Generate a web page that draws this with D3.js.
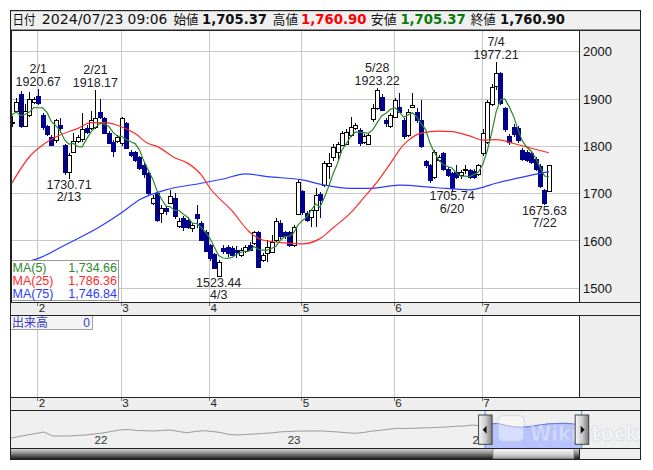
<!DOCTYPE html>
<html><head><meta charset="utf-8">
<script src="https://cdn.jsdelivr.net/npm/d3@7"></script>
<style>
html,body{margin:0;padding:0;background:#fff;}
svg{display:block;}
</style></head>
<body><svg id="c" width="653" height="470"></svg>
<script>
// ---------------- DATA ----------------
const dates = ["1/24","1/25","1/26","1/29","1/30","1/31",
"2/1","2/2","2/5","2/6","2/7","2/8","2/9","2/13","2/14","2/15","2/16","2/19","2/20","2/21","2/22","2/26","2/27","2/28","2/29",
"3/1","3/4","3/5","3/6","3/7","3/8","3/11","3/12","3/13","3/14","3/15","3/18","3/19","3/21","3/22","3/25","3/26","3/27","3/28","3/29",
"4/1","4/2","4/3","4/4","4/5","4/8","4/9","4/10","4/11","4/12","4/15","4/16","4/17","4/18","4/19","4/22","4/23","4/24","4/25","4/26","4/30",
"5/1","5/2","5/7","5/8","5/9","5/10","5/13","5/14","5/15","5/16","5/17","5/20","5/21","5/22","5/23","5/24","5/27","5/28","5/29","5/30","5/31",
"6/3","6/4","6/5","6/6","6/7","6/10","6/11","6/12","6/13","6/14","6/17","6/18","6/19","6/20","6/21","6/24","6/25","6/26","6/27","6/28",
"7/1","7/2","7/3","7/4","7/5","7/8","7/9","7/10","7/11","7/12","7/16","7/17","7/18","7/19","7/22","7/23"];

const open = [1850,1875,1910,1844,1866,1892,
1906,1866,1842,1820,1813,1845,1803,1745,1789,1812,1815,1838,1838,1840,1872,1859,1828,1810,1812,
1806,1849,1789,1787,1778,1760,1743,1680,1701,1658,1670,1681,1690,1632,1648,1644,1627,1656,1638,1620,
1591,1572,1527,1585,1588,1586,1580,1570,1578,1592,1595,1620,1560,1575,1577,1602,1638,1618,1620,1592,1658,
1705,1660,1651,1665,1700,1718,1758,1778,1790,1803,1806,1824,1838,1834,1810,1806,1856,1880,1905,1856,1842,
1863,1884,1856,1824,1884,1872,1856,1768,1760,1736,1771,1785,1752,1743,1745,1738,1750,1750,1748,1740,
1785,1810,1891,1926,1954,1880,1822,1840,1838,1792,1788,1786,1774,1758,1707,1705.37];
const high = [1865,1902,1917,1890,1915,1905,
1920.67,1870,1846,1824,1858,1860,1806,1785,1828,1824,1870,1845,1875,1918.17,1901,1862,1832,1814,1824,
1862,1852,1792,1790,1780,1764,1746,1697,1703,1676,1674,1707,1701,1648,1652,1650,1637,1676,1642,1624,
1594,1575,1560,1592,1592,1590,1590,1585,1592,1598,1622,1622,1575,1602,1612,1648,1645,1622,1622,1634,1728,
1708,1664,1668,1712,1704,1768,1785,1806,1810,1832,1836,1863,1850,1838,1826,1828,1890,1923.22,1910,1860,1870,
1903,1912,1860,1878,1912,1880,1898,1772,1762,1792,1782,1788,1756,1746,1760,1750,1760,1753,1752,1763,
1836,1898,1932,1977.21,1957,1884,1826,1848,1842,1796,1792,1790,1778,1762,1710,1760.90];
const low = [1840,1872,1838,1841,1863,1890,
1888,1834,1822,1800,1808,1828,1740,1730.71,1785,1808,1810,1826,1834,1836,1858,1826,1804,1778,1808,
1800,1794,1778,1766,1750,1734,1698,1676,1640,1637,1655,1678,1646,1628,1622,1625,1620,1628,1600,1576,
1558,1540,1523.44,1572,1566,1568,1565,1566,1574,1578,1592,1544,1555,1556,1575,1598,1605,1605,1588,1588,1655,
1655,1640,1630,1630,1648,1715,1730,1770,1768,1800,1802,1820,1835,1800,1806,1802,1852,1876,1874,1840,1838,
1860,1870,1815,1820,1880,1850,1796,1755,1722,1730,1766,1748,1735,1705.74,1730,1732,1742,1732,1730,1738,
1780,1806,1886,1920,1888,1830,1803,1820,1808,1768,1766,1762,1748,1712,1675.63,1705.37];
const close = [1851,1894,1842,1875,1900,1899,
1892,1841,1826,1803,1856,1838,1745,1781,1812,1820,1836,1830,1855,1860,1862,1828,1807,1790,1820,
1859,1797,1782,1771,1754,1740,1701,1690,1644,1669,1664,1695,1651,1643,1630,1630,1634,1648,1603,1580,
1563,1543,1556,1578,1576,1572,1575,1580,1587,1582,1618,1546,1570,1588,1598,1642,1610,1610,1592,1630,1725,
1660,1645,1665,1697,1688,1764,1765,1799,1806,1828,1831,1841,1845,1806,1822,1824,1880,1919,1877,1849,1866,
1898,1873,1822,1873,1888,1856,1800,1760,1728,1789,1778,1752,1740,1712,1735,1745,1753,1736,1735,1760,
1828,1894,1926,1954,1891,1836,1810,1825,1812,1772,1771,1768,1752,1716,1680,1760.90];
const priorCloses = [1862,1878,1865,1874];   // closes before the first visible day (for MA5)

const ma25Idx = [0,4,7,11,15,18,21,25,28,31,33,37,40,43,45,50,54,57,62,66,70,73,77,80,83,87,88,90,93,97,100,104,107,110,114,118,122];
const ma25Val = [1722,1778,1803,1824,1838,1850,1850,1841,1827,1806,1800,1776,1764,1740,1712,1664,1619,1602,1596,1594,1605,1628,1660,1692,1725,1778,1792,1812,1828,1832,1831,1822,1813,1814,1806,1796,1786.36];
const ma75Idx = [0,5,7,12,20,25,29,35,43,48,53,58,66,70,77,81,88,96,104,106,110,118,122];
const ma75Val = [1548,1560,1567,1591,1630,1660,1687,1708,1722,1731,1742,1736,1729,1720,1711,1711,1718,1713,1708,1711,1722,1739,1746.84];

const yTicks = [1500,1600,1700,1800,1900,2000];

const peakIdx   = [6,13,19,47,83,100,110,121];
const peakKind  = ["high","low","high","low","high","low","high","low"];
const peakValue = [1920.67,1730.71,1918.17,1523.44,1923.22,1705.74,1977.21,1675.63];

const hdrDate = "2024/07/23", hdrTime = "09:06";
const hdrOpen = 1705.37, hdrHigh = 1760.90, hdrLow = 1705.37, hdrClose = 1760.90;

const legendNames  = ["MA(5)","MA(25)","MA(75)"];
const legendValues = [1734.66,1786.36,1746.84];
const volumeLabel = "出来高", volumeValue = 0;

const navValues = [538,704,842,980,1118,750,750,750,796,842,934,1026,1164,1302,1348,1256,1238,1210,1256,1302,
1164,1054,1164,1238,1164,1072,888,842,888,934,980,1026,1118,1164,1192,1210,1210,1210,1164,1118,
1054,998,1072,1192,1274,1366,1458,1440,1458,1486,1514,1550,1578,1642,1670,1762,1670,1854,1900,1716,
1578,1550,1624,1762,1854,1900,1918,1854,1670];
const navYears = ["22","23","24"];
const navYearIdx = [10,33,55];
const navSelStart = 56.5;

// ---------------- LAYOUT ----------------
const FL = 10.5, FR = 640.5;
const PL = 11, PR = 579.5, PT = 30, PB = 302.7;
const HT = 10.7;
const S1T = 302.7, S1B = 315, VB = 397.3, S2B = 410, NB = 448.3, SB = 459.3;
const NUM = "Liberation Sans, Arial, sans-serif";
const CJK = "Noto Sans CJK JP, sans-serif";
const UP_STROKE = "#000", DOWN = "#00008c";
const C5 = "#2a8a2a", C25 = "#ff2a2a", C75 = "#2a3cff";

const svg = d3.select("#c");
const defs = svg.append("defs");
defs.append("clipPath").attr("id","plotClip").append("rect")
  .attr("x",PL).attr("y",PT).attr("width",PR-PL).attr("height",PB-PT);

const x = d3.scaleLinear().domain([0,122]).range([11.8,548.9]);
const y = d3.scaleLinear().domain([1500,2000]).range([288.3,51.7]);

const monthOf = d => +d.split("/")[0];
const monthStarts = [];
dates.forEach((d,i)=>{ if(i>0 && monthOf(d)!==monthOf(dates[i-1])) monthStarts.push({i, label:String(monthOf(d))}); });

// ---------------- BACKGROUNDS ----------------
svg.append("rect").attr("x",0).attr("y",0).attr("width",653).attr("height",470).attr("fill","#fff");
svg.append("rect").attr("x",FL).attr("y",HT).attr("width",FR-FL).attr("height",PT-HT)
  .attr("fill","#f0f0f0").attr("stroke","#333").attr("stroke-width",1);
svg.append("rect").attr("x",PL).attr("y",PT).attr("width",PR-PL).attr("height",PB-PT).attr("fill","#fff");
svg.append("rect").attr("x",PR).attr("y",PT).attr("width",FR-PR).attr("height",PB-PT).attr("fill","#eeeeee");
svg.append("rect").attr("x",PR).attr("y",S1B).attr("width",FR-PR).attr("height",VB-S1B).attr("fill","#eeeeee");
[[S1T,S1B],[VB,S2B]].forEach(([a,b])=>{
  svg.append("rect").attr("x",FL).attr("y",a).attr("width",FR-FL).attr("height",b-a).attr("fill","#eeeeee");
});
svg.append("rect").attr("x",FL).attr("y",S2B).attr("width",FR-FL).attr("height",NB-S2B).attr("fill","#efefef");

// ---------------- GRID ----------------
const grid = svg.append("g").attr("stroke","#c8c8c8").attr("stroke-width",1).attr("shape-rendering","crispEdges");
yTicks.forEach(t=>{
  grid.append("line").attr("x1",PL).attr("x2",PR).attr("y1",y(t)).attr("y2",y(t));
});
monthStarts.forEach(m=>{
  const xx = x(m.i)-0.5;
  grid.append("line").attr("x1",xx).attr("x2",xx).attr("y1",PT).attr("y2",PB);
  grid.append("line").attr("x1",xx).attr("x2",xx).attr("y1",S1B).attr("y2",VB);
});

// ---------------- CANDLES ----------------
const plot = svg.append("g").attr("clip-path","url(#plotClip)");
const candles = plot.append("g");
d3.range(dates.length).forEach(i=>{
  const o=open[i], c=close[i], h=high[i], l=low[i];
  const up = c>=o;
  const cx = Math.round(x(i))+0.5;
  candles.append("line").attr("x1",cx).attr("x2",cx).attr("y1",y(h)).attr("y2",y(l))
    .attr("stroke", up?UP_STROKE:DOWN).attr("stroke-width",1).attr("shape-rendering","crispEdges");
  const yt = y(Math.max(o,c)), yb = y(Math.min(o,c));
  if(up){
    candles.append("rect").attr("x",cx-2).attr("y",Math.round(yt)+0.5).attr("width",4)
      .attr("height",Math.max(1,Math.round(yb-yt))).attr("fill","#fff").attr("stroke","#000")
      .attr("stroke-width",1).attr("shape-rendering","crispEdges");
  } else {
    candles.append("rect").attr("x",cx-2.5).attr("y",Math.round(yt)).attr("width",4.5)
      .attr("height",Math.max(1.5,Math.round(yb-yt)+1)).attr("fill",DOWN)
      .attr("shape-rendering","crispEdges");
  }
});

// ---------------- MOVING AVERAGES ----------------
const allC = priorCloses.concat(close);
const ma5 = close.map((_,i)=>d3.mean(allC.slice(i, i+5)));
const lineIdx = d3.line().x(d=>x(d[0])).y(d=>y(d[1]));
plot.append("path").datum(ma75Idx.map((d,k)=>[d,ma75Val[k]]))
  .attr("d", lineIdx.curve(d3.curveMonotoneX)).attr("fill","none").attr("stroke",C75).attr("stroke-width",1.2);
plot.append("path").datum(ma25Idx.map((d,k)=>[d,ma25Val[k]]))
  .attr("d", lineIdx.curve(d3.curveMonotoneX)).attr("fill","none").attr("stroke",C25).attr("stroke-width",1.2);
plot.append("path").datum(ma5.map((v,i)=>[i,v]))
  .attr("d", d3.line().x(d=>x(d[0])).y(d=>y(d[1]))).attr("fill","none").attr("stroke",C5).attr("stroke-width",1.2);

// ---------------- PEAK LABELS ----------------
const fmt2 = d3.format(".2f");
const ann = svg.append("g").attr("font-family",NUM).attr("font-size",12.5).attr("fill","#222").attr("text-anchor","middle");
peakIdx.forEach((i,k)=>{
  const v = peakValue[k], cx = x(i);
  if(peakKind[k]==="high"){
    ann.append("text").attr("x",cx).attr("y",y(v)-3.5).text(fmt2(v));
    ann.append("text").attr("x",cx).attr("y",y(v)-16).text(dates[i]);
  } else {
    ann.append("text").attr("x",cx).attr("y",y(v)+9.5).text(fmt2(v));
    ann.append("text").attr("x",cx).attr("y",y(v)+22).text(dates[i]);
  }
});

// ---------------- LEGEND ----------------
const fmtC = d3.format(",.2f");
const lg = svg.append("g");
lg.append("rect").attr("x",PL).attr("y",260).attr("width",107.3).attr("height",40)
  .attr("fill","#fff").attr("fill-opacity",0.92).attr("stroke","#9a9a9a").attr("stroke-width",1).attr("shape-rendering","crispEdges");
const lgCol = [C5,C25,C75];
legendNames.forEach((n,k)=>{
  lg.append("text").attr("x",12.5).attr("y",271.8+k*13.3).attr("font-family",NUM).attr("font-size",12.5)
    .attr("fill",lgCol[k]).text(n);
  lg.append("text").attr("x",117).attr("y",271.8+k*13.3).attr("font-family",NUM).attr("font-size",12.5)
    .attr("text-anchor","end").attr("fill",lgCol[k]).text(fmtC(legendValues[k]));
});

// ---------------- RIGHT AXIS ----------------
const ax = svg.append("g").attr("transform",`translate(${PR},0)`)
  .call(d3.axisRight(y).tickValues(yTicks).tickSize(0).tickPadding(3.5).tickFormat(d3.format("d")));
ax.select(".domain").remove();
ax.selectAll("text").attr("font-family",NUM).attr("font-size",13).attr("fill","#111");

// ---------------- MONTH STRIPS ----------------
[[S1T,312.3],[VB,406.8]].forEach(([top,base])=>{
  const g = svg.append("g");
  monthStarts.forEach(m=>{
    const xx = x(m.i)-0.5;
    g.append("line").attr("x1",xx).attr("x2",xx).attr("y1",top).attr("y2",top+3.5)
      .attr("stroke","#777").attr("shape-rendering","crispEdges");
    g.append("text").attr("x",xx+1).attr("y",base).attr("font-family",NUM).attr("font-size",11.5)
      .attr("fill","#222").text(m.label);
  });
});

// ---------------- VOLUME LABEL ----------------
svg.append("rect").attr("x",FL).attr("y",S1B).attr("width",81.5).attr("height",14.3)
  .attr("fill","#f4f4f4").attr("stroke","#a0a0a0").attr("shape-rendering","crispEdges");
svg.append("text").attr("x",12).attr("y",326.8).attr("font-family",CJK).attr("font-size",12)
  .attr("fill","#3a3acc").text(volumeLabel);
svg.append("text").attr("x",90).attr("y",326.8).attr("font-family",NUM).attr("font-size",12)
  .attr("text-anchor","end").attr("fill","#3a3acc").text(String(volumeValue));

// ---------------- NAVIGATOR ----------------
const nx = d3.scaleLinear().domain([0,navValues.length-1]).range([FL,581.7]);
const ny = d3.scaleLinear().domain([400,2000]).range([439.8,422.4]);
defs.append("clipPath").attr("id","navClip").append("rect")
  .attr("x",FL).attr("y",S2B).attr("width",FR-FL).attr("height",NB-S2B);
defs.append("clipPath").attr("id","selClip").append("rect")
  .attr("x",nx(navSelStart)).attr("y",S2B).attr("width",581.7-nx(navSelStart)).attr("height",NB-S2B);
const nav = svg.append("g").attr("clip-path","url(#navClip)");
const navPts = navValues.map((v,k)=>[k,v]);
nav.append("path").datum(navPts)
  .attr("d", d3.line().x(d=>nx(d[0])).y(d=>ny(d[1])))
  .attr("fill","none").attr("stroke","#9a9a9a").attr("stroke-width",1);
const sel = nav.append("g").attr("clip-path","url(#selClip)");
sel.append("path").datum(navPts)
  .attr("d", d3.area().x(d=>nx(d[0])).y0(NB).y1(d=>ny(d[1])))
  .attr("fill","#b6c3ff");
sel.append("path").datum(navPts)
  .attr("d", d3.line().x(d=>nx(d[0])).y(d=>ny(d[1])))
  .attr("fill","none").attr("stroke","#6474e0").attr("stroke-width",1);
navYears.forEach((t,k)=>{
  nav.append("text").attr("x",nx(navYearIdx[k])).attr("y",443.5).attr("font-family",NUM)
    .attr("font-size",11.5).attr("fill","#333").text(t);
});
// watermark
const wm = svg.append("g").attr("opacity",0.45);
wm.append("rect").attr("x",498).attr("y",415.5).attr("width",26).attr("height",26).attr("rx",5)
  .attr("fill","#fff").attr("stroke","#c4cce0").attr("stroke-width",1.5);
wm.append("text").attr("x",530).attr("y",441).attr("font-family","DejaVu Sans, sans-serif")
  .attr("font-weight","bold").attr("font-size",21).attr("fill","#ffffff").attr("stroke","#c4cce0")
  .attr("stroke-width",1).attr("textLength",108).attr("lengthAdjust","spacingAndGlyphs").text("WikiStock");
// selection edges
[nx(navSelStart), 581.7].forEach(xx=>{
  svg.append("line").attr("x1",xx).attr("x2",xx).attr("y1",S2B).attr("y2",NB)
    .attr("stroke","#2aa6dc").attr("stroke-width",1);
});
// handles
const hg = defs.append("linearGradient").attr("id","hGrad").attr("x1","0").attr("x2","1").attr("y1","0").attr("y2","0");
hg.append("stop").attr("offset","0%").attr("stop-color","#f8f8f8");
hg.append("stop").attr("offset","55%").attr("stop-color","#c8c8c8");
hg.append("stop").attr("offset","100%").attr("stop-color","#7a7a7a");
[[nx(navSelStart),-1],[581.7,1]].forEach(([cx,dir])=>{
  svg.append("rect").attr("x",cx-6.5).attr("y",415).attr("width",13.5).attr("height",29.3)
    .attr("fill","url(#hGrad)").attr("stroke","#444").attr("stroke-width",1);
  const ty = 429.7;
  svg.append("path").attr("d", dir<0
      ? `M${cx-2.5},${ty} L${cx+1.5},${ty-4} L${cx+1.5},${ty+4} Z`
      : `M${cx+3},${ty} L${cx-1},${ty-4} L${cx-1},${ty+4} Z`).attr("fill","#111");
});

// ---------------- SCROLLBAR ----------------
const sg = defs.append("linearGradient").attr("id","sGrad").attr("x1","0").attr("x2","0").attr("y1","0").attr("y2","1");
sg.append("stop").attr("offset","0%").attr("stop-color","#e0e0e0");
sg.append("stop").attr("offset","45%").attr("stop-color","#8a8a8a");
sg.append("stop").attr("offset","100%").attr("stop-color","#141414");
const tg = defs.append("linearGradient").attr("id","tGrad").attr("x1","0").attr("x2","0").attr("y1","0").attr("y2","1");
tg.append("stop").attr("offset","0%").attr("stop-color","#fdfdfd");
tg.append("stop").attr("offset","60%").attr("stop-color","#d0d0d0");
tg.append("stop").attr("offset","100%").attr("stop-color","#9a9a9a");
svg.append("rect").attr("x",PR).attr("y",NB).attr("width",FR-PR).attr("height",SB-NB).attr("fill","#eeeeee");
svg.append("rect").attr("x",FL).attr("y",NB).attr("width",PR-FL).attr("height",SB-NB).attr("fill","url(#sGrad)");
svg.append("rect").attr("x",493).attr("y",NB+0.5).attr("width",81).attr("height",SB-NB-1).attr("fill","url(#tGrad)")
  .attr("stroke","#777").attr("stroke-width",0.6);

// ---------------- FRAME LINES ----------------
const fr = svg.append("g").attr("stroke","#222").attr("stroke-width",1).attr("shape-rendering","crispEdges").attr("fill","none");
fr.append("rect").attr("x",FL).attr("y",HT).attr("width",FR-FL).attr("height",SB-HT);
[PT,S1T,S1B,VB,S2B,NB].forEach(yy=>fr.append("line").attr("x1",FL).attr("x2",FR).attr("y1",yy).attr("y2",yy));
fr.append("line").attr("x1",PL).attr("x2",PL).attr("y1",PT).attr("y2",PB);
fr.append("line").attr("x1",PR).attr("x2",PR).attr("y1",PT).attr("y2",PB);
fr.append("line").attr("x1",PR).attr("x2",PR).attr("y1",S1B).attr("y2",VB);
fr.append("line").attr("x1",PR).attr("x2",PR).attr("y1",NB).attr("y2",SB);

// ---------------- HEADER TEXT ----------------
const hdr = [
  ["日付", 12.5, 23, "normal", "#111", CJK],
  [hdrDate, 41.8, 81.6, "normal", "#111", "DejaVu Sans, sans-serif"],
  [hdrTime, 127.6, 39.8, "normal", "#111", "DejaVu Sans, sans-serif"],
  ["始値", 173.6, 25, "normal", "#111", CJK],
  [fmtC(hdrOpen), 202, 65, "bold", "#111", "DejaVu Sans, sans-serif"],
  ["高値", 272.8, 25.2, "normal", "#111", CJK],
  [fmtC(hdrHigh), 301, 65.5, "bold", "#ff0000", "DejaVu Sans, sans-serif"],
  ["安値", 370.7, 26, "normal", "#111", CJK],
  [fmtC(hdrLow), 400.4, 65.3, "bold", "#0a7a0a", "DejaVu Sans, sans-serif"],
  ["終値", 470.7, 25, "normal", "#111", CJK],
  [fmtC(hdrClose), 500, 65, "bold", "#111", "DejaVu Sans, sans-serif"]
];
hdr.forEach(([t,xx,w,fw,col,ff])=>{
  svg.append("text").attr("x",xx).attr("y",24.2).attr("font-family",ff)
    .attr("font-size", ff===CJK?13:14).attr("font-weight",fw).attr("fill",col)
    .attr("textLength",w).attr("lengthAdjust","spacingAndGlyphs").text(t);
});
</script>
</body></html>
